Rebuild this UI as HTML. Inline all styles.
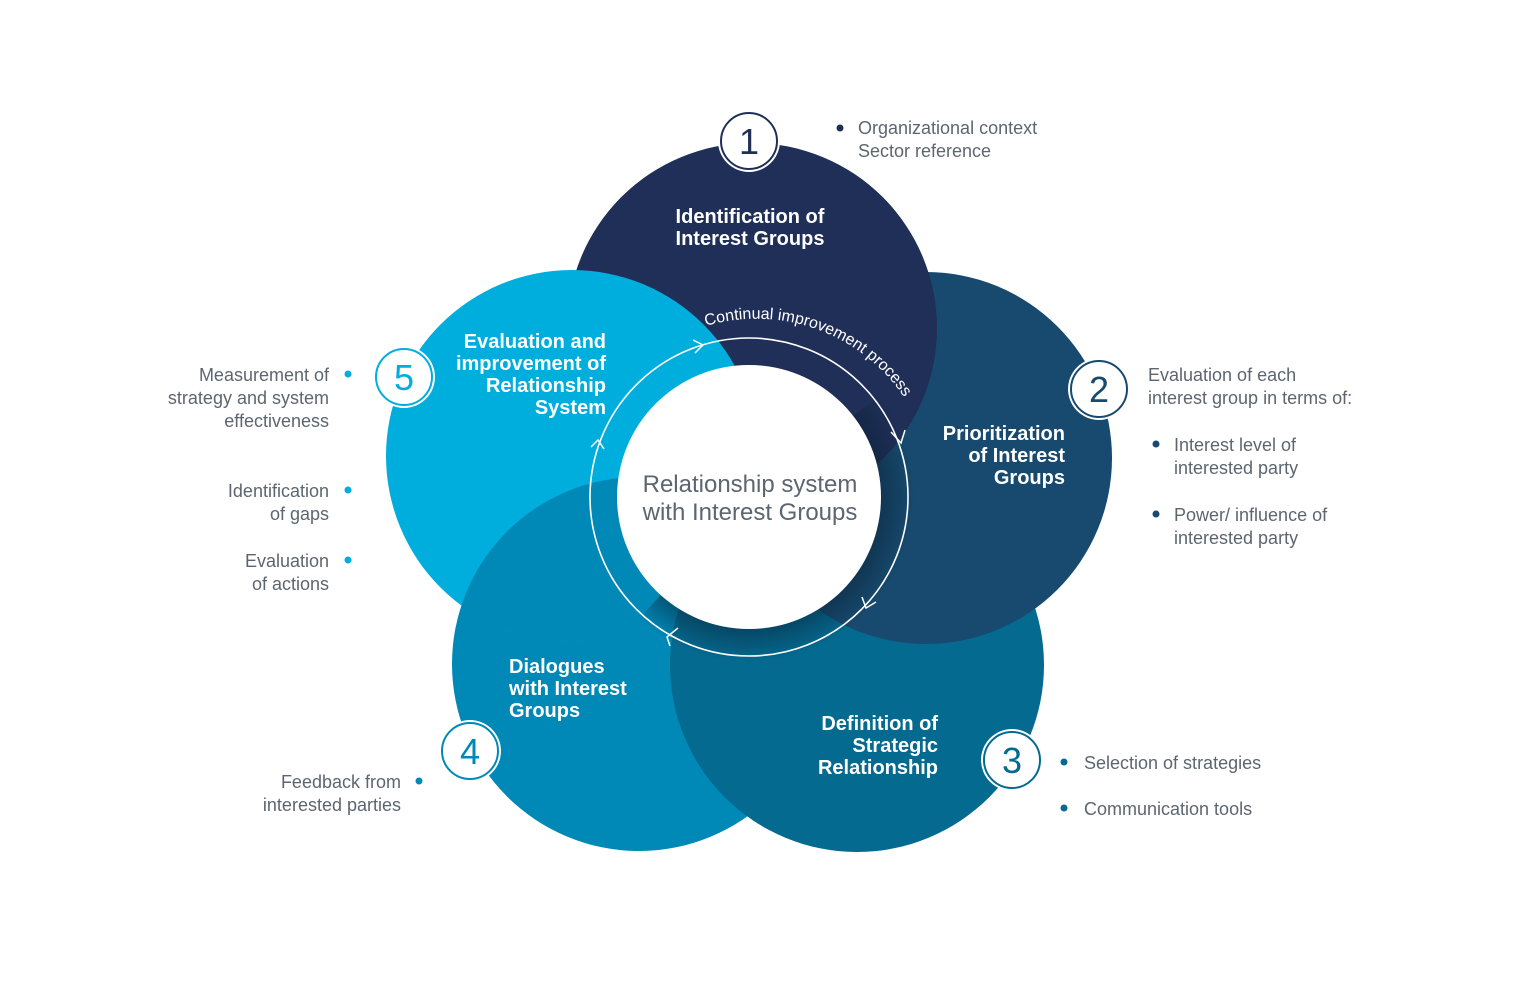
<!DOCTYPE html>
<html><head><meta charset="utf-8"><style>
html,body{margin:0;padding:0;background:#fff;}
svg{display:block;font-family:"Liberation Sans","DejaVu Sans",sans-serif;}
</style></head><body>
<svg width="1514" height="990" viewBox="0 0 1514 990" xmlns="http://www.w3.org/2000/svg">
<defs>
<clipPath id="c5"><circle cx="572" cy="456" r="186"/></clipPath>
<radialGradient id="sh" cx="749" cy="497" r="165" gradientUnits="userSpaceOnUse">
<stop offset="0.78" stop-color="#0a2036" stop-opacity="0.75"/>
<stop offset="1" stop-color="#0a2036" stop-opacity="0"/>
</radialGradient>
<path id="arcT" d="M 706 326 A 178 178 0 0 1 918 422"/>
</defs>
<circle cx="639" cy="664" r="187" fill="#0088b6"/>
<circle cx="857" cy="665" r="187" fill="#046a90"/>
<circle cx="926" cy="458" r="186" fill="#174a6e"/>
<circle cx="752" cy="328" r="185" fill="#1f2f57"/>
<circle cx="572" cy="456" r="186" fill="#00aede"/>
<g clip-path="url(#c5)"><circle cx="639" cy="664" r="187" fill="#0088b6"/></g>
<path d="M 749 497 L 900 380 A 190 190 0 0 1 620 640 Z" fill="url(#sh)" opacity="0.7"/>
<circle cx="749" cy="497" r="159" fill="none" stroke="#fff" stroke-width="1.6"/>
<circle cx="749" cy="497" r="132" fill="#fff"/>
<text font-size="24" fill="#5d6670" text-anchor="middle"><tspan x="750" y="492">Relationship system</tspan><tspan x="750" y="520">with Interest Groups</tspan></text>
<text font-size="16" fill="#fff"><textPath href="#arcT">Continual improvement process</textPath></text>
<g fill="none" stroke="#fff" stroke-width="1.5">
<polyline points="693,340 703,345 695,353"/>
<polyline points="891,432 901,443 905,430"/>
<polyline points="862,597 866,608 876,602"/>
<polyline points="678,628 667,637 670,646"/>
<polyline points="591,447 598,440 604,449"/>
</g>
<g font-weight="bold" font-size="20" fill="#fff">
<text text-anchor="middle"><tspan x="750" y="223">Identification of</tspan><tspan x="750" y="245">Interest Groups</tspan></text>
<text text-anchor="end"><tspan x="1065" y="440">Prioritization</tspan><tspan x="1065" y="462">of Interest</tspan><tspan x="1065" y="484">Groups</tspan></text>
<text text-anchor="end"><tspan x="938" y="730">Definition of</tspan><tspan x="938" y="752">Strategic</tspan><tspan x="938" y="774">Relationship</tspan></text>
<text><tspan x="509" y="673">Dialogues</tspan><tspan x="509" y="695">with Interest</tspan><tspan x="509" y="717">Groups</tspan></text>
<text text-anchor="end"><tspan x="606" y="348">Evaluation and</tspan><tspan x="606" y="370">improvement of</tspan><tspan x="606" y="392">Relationship</tspan><tspan x="606" y="414">System</tspan></text>
</g>
<g font-size="36" text-anchor="middle">
<circle cx="749" cy="141" r="31" fill="#fff"/><circle cx="749" cy="141" r="28" fill="#fff" stroke="#1f2f57" stroke-width="2"/><text x="749" y="154" fill="#1f2f57">1</text>
<circle cx="1099" cy="389" r="31" fill="#fff"/><circle cx="1099" cy="389" r="28" fill="#fff" stroke="#174a6e" stroke-width="2"/><text x="1099" y="402" fill="#174a6e">2</text>
<circle cx="1012" cy="760" r="31" fill="#fff"/><circle cx="1012" cy="760" r="28" fill="#fff" stroke="#046a90" stroke-width="2"/><text x="1012" y="773" fill="#046a90">3</text>
<circle cx="470" cy="751" r="31" fill="#fff"/><circle cx="470" cy="751" r="28" fill="#fff" stroke="#0088b6" stroke-width="2"/><text x="470" y="764" fill="#0088b6">4</text>
<circle cx="404" cy="377" r="31" fill="#fff"/><circle cx="404" cy="377" r="28" fill="#fff" stroke="#00aede" stroke-width="2"/><text x="404" y="390" fill="#00aede">5</text>
</g>
<g font-size="18" fill="#5d6670">
<circle cx="840" cy="128" r="3.5" fill="#1f2f57"/>
<text><tspan x="858" y="134">Organizational context</tspan><tspan x="858" y="157">Sector reference</tspan></text>
<text><tspan x="1148" y="381">Evaluation of each</tspan><tspan x="1148" y="404">interest group in terms of:</tspan></text>
<circle cx="1156" cy="444" r="3.5" fill="#174a6e"/>
<text><tspan x="1174" y="451">Interest level of</tspan><tspan x="1174" y="474">interested party</tspan></text>
<circle cx="1156" cy="514" r="3.5" fill="#174a6e"/>
<text><tspan x="1174" y="521">Power/ influence of</tspan><tspan x="1174" y="544">interested party</tspan></text>
<circle cx="1064" cy="762" r="3.5" fill="#046a90"/>
<text x="1084" y="769">Selection of strategies</text>
<circle cx="1064" cy="808" r="3.5" fill="#046a90"/>
<text x="1084" y="815">Communication tools</text>
<circle cx="419" cy="781" r="3.5" fill="#0088b6"/>
<text text-anchor="end"><tspan x="401" y="788">Feedback from</tspan><tspan x="401" y="811">interested parties</tspan></text>
<circle cx="348" cy="374" r="3.5" fill="#00aede"/>
<text text-anchor="end"><tspan x="329" y="381">Measurement of</tspan><tspan x="329" y="404">strategy and system</tspan><tspan x="329" y="427">effectiveness</tspan></text>
<circle cx="348" cy="490" r="3.5" fill="#00aede"/>
<text text-anchor="end"><tspan x="329" y="497">Identification</tspan><tspan x="329" y="520">of gaps</tspan></text>
<circle cx="348" cy="560" r="3.5" fill="#00aede"/>
<text text-anchor="end"><tspan x="329" y="567">Evaluation</tspan><tspan x="329" y="590">of actions</tspan></text>
</g>
</svg>
</body></html>
